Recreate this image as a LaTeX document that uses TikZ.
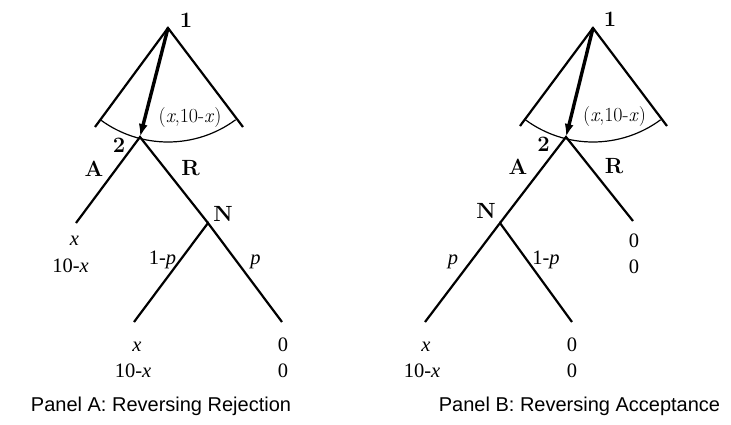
\documentclass[tikz,border=0pt]{standalone}
\usepackage{fontspec}
\newfontfamily\capfont{Liberation Sans}
\newfontfamily\payfont{Liberation Serif}
\usetikzlibrary{arrows.meta}
\begin{document}
\begin{tikzpicture}[x=1pt,y=-1pt,
  branch/.style={line width=2.2pt},
  info/.style={line width=1.2pt},
  move/.style={line width=3.4pt,-{Latex[length=13pt,width=9pt]}},
  pl/.style={font=\fontsize{22}{22}\selectfont\bfseries,inner sep=0pt,anchor=base},
  pay/.style={font=\payfont\fontsize{20.5}{20.5}\selectfont,inner sep=0pt,anchor=base},
  offer/.style={font=\fontsize{20}{20}\selectfont,inner sep=0pt,anchor=base},
  paneltitle/.style={font=\capfont\fontsize{20}{20}\selectfont,inner sep=0pt,anchor=base}]
\useasboundingbox (0,0) rectangle (731,424);
% ---------- Panel A ----------
\coordinate (a1) at (168,28);
\coordinate (aL) at (95,127);
\coordinate (aR) at (243,127);
\coordinate (a2) at (140,137);
\coordinate (aA) at (76,223);
\coordinate (aN) at (208,223);
\coordinate (aNL) at (134,322);
\coordinate (aNR) at (282,322);
\draw[branch] (aL) -- (a1) -- (aR);
\draw[info] (a1) ++(126.4:114) arc[start angle=126.4,end angle=53.6,radius=114];
\draw[move] (a1) -- (a2);
\draw[branch] (aA) -- (a2) -- (aN);
\draw[branch] (aNL) -- (aN) -- (aNR);
\node[pl] (ta1) at (186,27) {1};
\node[pl] (ta2) at (119,152) {2};
\node[pl] (taA) at (94,176) {A};
\node[pl] (taR) at (190.5,175) {R};
\node[pl] (taN) at (223,221) {N};
\node[offer] (tao) at (190,122) {(\textit{x},10-\textit{x})};
\node[pay] (ta3) at (74.5,245) {\itshape x};
\node[pay] (ta4) at (70.5,272) {10-\textit{x}};
\node[pay] (ta5) at (162.5,264) {1-\textit{p}};
\node[pay] (ta6) at (255.5,264) {\itshape p};
\node[pay] (ta7) at (137,351) {\itshape x};
\node[pay] (ta8) at (133,377.5) {10-\textit{x}};
\node[pay] (ta9) at (283,351) {0};
\node[pay] (ta10) at (283,377.5) {0};
\node[paneltitle] (capA) at (161,411) {Panel A: Reversing Rejection};
% ---------- Panel B ----------
\coordinate (b1) at (593,28);
\coordinate (bL) at (520,126);
\coordinate (bR) at (667,126);
\coordinate (b2) at (566,137);
\coordinate (bN) at (500,223);
\coordinate (bRR) at (633,221);
\coordinate (bNL) at (425,322);
\coordinate (bNR) at (572,322);
\draw[branch] (bL) -- (b1) -- (bR);
\draw[info] (b1) ++(126.4:114) arc[start angle=126.4,end angle=53.6,radius=114];
\draw[move] (b1) -- (b2);
\draw[branch] (bN) -- (b2) -- (bRR);
\draw[branch] (bNL) -- (bN) -- (bNR);
\node[pl] (tb1) at (610,26) {1};
\node[pl] (tb2) at (543.5,151) {2};
\node[pl] (tbA) at (518,174) {A};
\node[pl] (tbR) at (614,173) {R};
\node[pl] (tbN) at (486,218) {N};
\node[offer] (tbo) at (614.5,121) {(\textit{x},10-\textit{x})};
\node[pay] (tb3) at (634,247) {0};
\node[pay] (tb4) at (634,273) {0};
\node[pay] (tb5) at (453,264) {\itshape p};
\node[pay] (tb6) at (546,264) {1-\textit{p}};
\node[pay] (tb7) at (426,351) {\itshape x};
\node[pay] (tb8) at (422,377.5) {10-\textit{x}};
\node[pay] (tb9) at (572,351) {0};
\node[pay] (tb10) at (572,377.5) {0};
\node[paneltitle] (capB) at (579.5,411) {Panel B: Reversing Acceptance};
\end{tikzpicture}
\end{document}
